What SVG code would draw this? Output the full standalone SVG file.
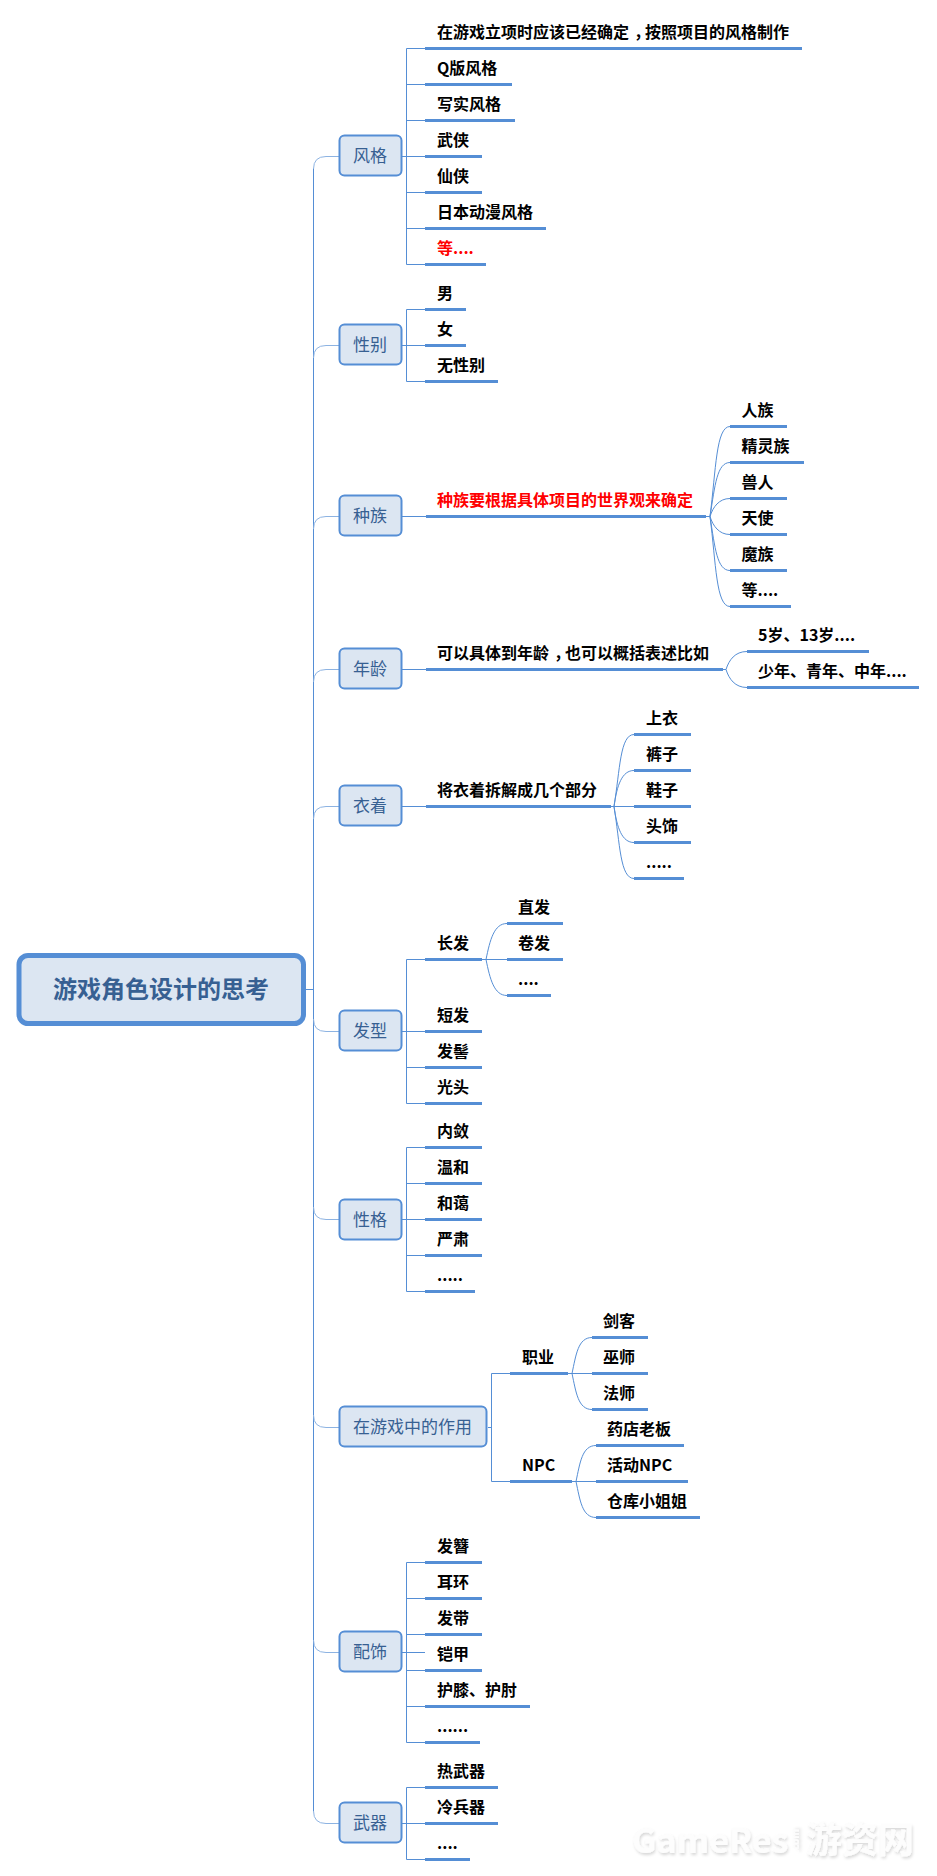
<svg xmlns="http://www.w3.org/2000/svg" width="937" height="1876" viewBox="0 0 937 1876">
<style>
text{font-family:"Noto Sans CJK SC","Noto Sans",sans-serif}
.t{font-size:16px;font-weight:700;fill:#000}
.r{font-size:16px;font-weight:700;fill:#f00}
.h{font-feature-settings:"halt"}
.n{font-size:17px;fill:#376092;text-anchor:middle}
.b{fill:#dce6f2;stroke:#558ed5;stroke-width:2}
.u{stroke:#558ed5;stroke-width:3;fill:none}
.c{stroke:#558ed5;stroke-width:1;fill:none}
.s{stroke:#8db3e2;stroke-width:1;fill:none}
.wm{fill:#fdfdfd;font-weight:700;filter:url(#sh)}
</style>
<defs><filter id="sh" x="-10%" y="-20%" width="120%" height="150%"><feDropShadow dx="1" dy="2" stdDeviation="1.5" flood-color="#000" flood-opacity="0.16"/></filter></defs>
<rect width="937" height="1876" fill="#fff"/>
<g id="connectors">
<path class="c" d="M305 989.500H313.500M313.500 168V1811"/>
<path class="s" d="M339 156.500H326Q313.500 156.500 313.500 169M339 345.500H326Q313.500 345.500 313.500 358M339 516.500H326Q313.500 516.500 313.500 529M339 669.500H326Q313.500 669.500 313.500 682M339 806.500H326Q313.500 806.500 313.500 819M339 1031.500H326Q313.500 1031.500 313.500 1019M339 1219.500H326Q313.500 1219.500 313.500 1207M339 1427.500H326Q313.500 1427.500 313.500 1415M339 1652.500H326Q313.500 1652.500 313.500 1640M339 1823.500H326Q313.500 1823.500 313.500 1811"/>
<path class="c" d="M402 156.500H425M406.500 48.500V264.500M406.500 48.500H425M406.500 84.500H425M406.500 120.500H425M406.500 192.500H425M406.500 228.500H425M406.500 264.500H425"/>
<path class="c" d="M402 345.500H425M406.500 309.500V381.500M406.500 309.500H425M406.500 381.500H425"/>
<path class="c" d="M402 516.500H426M402 669.500H426M402 806.500H426"/>
<path class="c" d="M706 516.500H710M710 516.500C716 470 716 426.500 730 426.500M710 516.500C715 485 717 462.500 730 462.500M710 516.500C713 507 719 498.500 730 498.500M710 516.500C713 526 719 534.500 730 534.500M710 516.500C715 548 717 570.500 730 570.500M710 516.500C716 563 716 606.500 730 606.500"/>
<path class="c" d="M723 669.500H726M726 669.500C729 660 735 651.500 747 651.500M726 669.500C729 679 735 687.500 747 687.500"/>
<path class="c" d="M611 806.500H614M614 806.500C620 770 620 734.500 634 734.500M614 806.500C617 785 622 770.500 634 770.500M614 806.500H634M614 806.500C617 828 622 842.500 634 842.500M614 806.500C620 843 620 878.500 634 878.500"/>
<path class="c" d="M402 1031.500H425M406.500 959.500V1103.500M406.500 959.500H425M406.500 1067.500H425M406.500 1103.500H425"/>
<path class="c" d="M482 959.500H486M486 959.500C490 940 494 923.500 507 923.500M486 959.500H507M486 959.500C490 979 494 995.500 507 995.500"/>
<path class="c" d="M402 1219.500H425M406.500 1147.500V1291.500M406.500 1147.500H425M406.500 1183.500H425M406.500 1255.500H425M406.500 1291.500H425"/>
<path class="c" d="M488 1427.500H491.500M491.500 1373.500V1481.500M491.500 1373.500H510M491.500 1481.500H510"/>
<path class="c" d="M568 1373.500H572M572 1373.500C576 1355 578 1337.500 592 1337.500M572 1373.500H592M572 1373.500C576 1392 578 1409.500 592 1409.500"/>
<path class="c" d="M572 1481.500H576M576 1481.500C580 1463 582 1445.500 596 1445.500M576 1481.500H596M576 1481.500C580 1500 582 1517.500 596 1517.500"/>
<path class="c" d="M402 1652.500H425M406.500 1562.500V1742.500M406.500 1562.500H425M406.500 1598.500H425M406.500 1634.500H425M406.500 1670.500H425M406.500 1706.500H425M406.500 1742.500H425"/>
<path class="c" d="M402 1823.500H425M406.500 1787.500V1859.500M406.500 1787.500H425M406.500 1859.500H425"/>
</g>
<g id="root"><rect x="19" y="955.500" width="284.500" height="68" rx="9" fill="#dce6f2" stroke="#558ed5" stroke-width="5"/><text x="161" y="998" font-size="24" font-weight="700" fill="#376092" text-anchor="middle">游戏角色设计的思考</text></g>
<g id="n-fengge"><rect class="b" x="339.500" y="135.500" width="62" height="40" rx="5"/><text class="n" x="370" y="162">风格</text></g>
<g id="n-xingbie"><rect class="b" x="339.500" y="324.500" width="62" height="40" rx="5"/><text class="n" x="370" y="351">性别</text></g>
<g id="n-zhongzu"><rect class="b" x="339.500" y="495.500" width="62" height="40" rx="5"/><text class="n" x="370" y="522">种族</text></g>
<g id="n-nianling"><rect class="b" x="339.500" y="648.500" width="62" height="40" rx="5"/><text class="n" x="370" y="675">年龄</text></g>
<g id="n-yizhuo"><rect class="b" x="339.500" y="785.500" width="62" height="40" rx="5"/><text class="n" x="370" y="812">衣着</text></g>
<g id="n-faxing"><rect class="b" x="339.500" y="1010.500" width="62" height="40" rx="5"/><text class="n" x="370" y="1037">发型</text></g>
<g id="n-xingge"><rect class="b" x="339.500" y="1199.500" width="62" height="40" rx="5"/><text class="n" x="370" y="1226">性格</text></g>
<g id="n-zuoyong"><rect class="b" x="339.500" y="1406.500" width="147" height="40" rx="5"/><text class="n" x="412.500" y="1433">在游戏中的作用</text></g>
<g id="n-peishi"><rect class="b" x="339.500" y="1631.500" width="62" height="40" rx="5"/><text class="n" x="370" y="1658">配饰</text></g>
<g id="n-wuqi"><rect class="b" x="339.500" y="1802.500" width="62" height="40" rx="5"/><text class="n" x="370" y="1829">武器</text></g>

<g id="a1"><text class="t" x="437" y="38">在游戏立项时应该已经确定<tspan class="h" dx="5">，</tspan><tspan dx="3">按照项目的风格制作</tspan></text><path class="u" d="M425 48.500H802"/></g>
<g id="a2"><text class="t" x="437" y="74">Q版风格</text><path class="u" d="M425 84.500H512"/></g>
<g id="a3"><text class="t" x="437" y="110">写实风格</text><path class="u" d="M425 120.500H515"/></g>
<g id="a4"><text class="t" x="437" y="146">武侠</text><path class="u" d="M425 156.500H482"/></g>
<g id="a5"><text class="t" x="437" y="182">仙侠</text><path class="u" d="M425 192.500H482"/></g>
<g id="a6"><text class="t" x="437" y="218">日本动漫风格</text><path class="u" d="M425 228.500H546"/></g>
<g id="a7"><text class="r" x="437" y="254">等....</text><path class="u" d="M425 264.500H486"/></g>
<g id="b1"><text class="t" x="437" y="299">男</text><path class="u" d="M425 309.500H466"/></g>
<g id="b2"><text class="t" x="437" y="335">女</text><path class="u" d="M425 345.500H466"/></g>
<g id="b3"><text class="t" x="437" y="371">无性别</text><path class="u" d="M425 381.500H498"/></g>
<g id="c0"><text class="r" x="437" y="506">种族要根据具体项目的世界观来确定</text><path class="u" d="M426 516.500H706"/></g>
<g id="c1"><text class="t" x="741.500" y="416">人族</text><path class="u" d="M730 426.500H787"/></g>
<g id="c2"><text class="t" x="741.500" y="452">精灵族</text><path class="u" d="M730 462.500H804"/></g>
<g id="c3"><text class="t" x="741.500" y="488">兽人</text><path class="u" d="M730 498.500H787"/></g>
<g id="c4"><text class="t" x="741.500" y="524">天使</text><path class="u" d="M730 534.500H787"/></g>
<g id="c5"><text class="t" x="741.500" y="560">魔族</text><path class="u" d="M730 570.500H787"/></g>
<g id="c6"><text class="t" x="741.500" y="596">等....</text><path class="u" d="M730 606.500H791"/></g>
<g id="d0"><text class="t" x="437" y="659">可以具体到年龄<tspan class="h" dx="5">，</tspan><tspan dx="3">也可以概括表述比如</tspan></text><path class="u" d="M426 669.500H723"/></g>
<g id="d1"><text class="t" x="758" y="641">5岁、13岁....</text><path class="u" d="M747 651.500H869"/></g>
<g id="d2"><text class="t" x="758" y="677">少年、青年、中年....</text><path class="u" d="M747 687.500H919"/></g>
<g id="e0"><text class="t" x="437" y="796">将衣着拆解成几个部分</text><path class="u" d="M426 806.500H611"/></g>
<g id="e1"><text class="t" x="646" y="724">上衣</text><path class="u" d="M634 734.500H691"/></g>
<g id="e2"><text class="t" x="646" y="760">裤子</text><path class="u" d="M634 770.500H691"/></g>
<g id="e3"><text class="t" x="646" y="796">鞋子</text><path class="u" d="M634 806.500H691"/></g>
<g id="e4"><text class="t" x="646" y="832">头饰</text><path class="u" d="M634 842.500H691"/></g>
<g id="e5"><text class="t" x="646" y="868">.....</text><path class="u" d="M634 878.500H684"/></g>
<g id="f1"><text class="t" x="437" y="949">长发</text><path class="u" d="M425 959.500H482"/></g>
<g id="f11"><text class="t" x="518" y="913">直发</text><path class="u" d="M507 923.500H563"/></g>
<g id="f12"><text class="t" x="518" y="949">卷发</text><path class="u" d="M507 959.500H563"/></g>
<g id="f13"><text class="t" x="518" y="985">....</text><path class="u" d="M507 995.500H551"/></g>
<g id="f2"><text class="t" x="437" y="1021">短发</text><path class="u" d="M425 1031.500H482"/></g>
<g id="f3"><text class="t" x="437" y="1057">发髻</text><path class="u" d="M425 1067.500H482"/></g>
<g id="f4"><text class="t" x="437" y="1093">光头</text><path class="u" d="M425 1103.500H482"/></g>
<g id="g1"><text class="t" x="437" y="1137">内敛</text><path class="u" d="M425 1147.500H482"/></g>
<g id="g2"><text class="t" x="437" y="1173">温和</text><path class="u" d="M425 1183.500H482"/></g>
<g id="g3"><text class="t" x="437" y="1209">和蔼</text><path class="u" d="M425 1219.500H482"/></g>
<g id="g4"><text class="t" x="437" y="1245">严肃</text><path class="u" d="M425 1255.500H482"/></g>
<g id="g5"><text class="t" x="437" y="1281">.....</text><path class="u" d="M425 1291.500H475"/></g>
<g id="h1"><text class="t" x="522" y="1363">职业</text><path class="u" d="M510 1373.500H568"/></g>
<g id="h11"><text class="t" x="603" y="1327">剑客</text><path class="u" d="M592 1337.500H648"/></g>
<g id="h12"><text class="t" x="603" y="1363">巫师</text><path class="u" d="M592 1373.500H648"/></g>
<g id="h13"><text class="t" x="603" y="1399">法师</text><path class="u" d="M592 1409.500H648"/></g>
<g id="h2"><text class="t" x="522" y="1471">NPC</text><path class="u" d="M510 1481.500H572"/></g>
<g id="h21"><text class="t" x="607" y="1435">药店老板</text><path class="u" d="M596 1445.500H684"/></g>
<g id="h22"><text class="t" x="607" y="1471">活动NPC</text><path class="u" d="M596 1481.500H688"/></g>
<g id="h23"><text class="t" x="607" y="1507">仓库小姐姐</text><path class="u" d="M596 1517.500H700"/></g>
<g id="i1"><text class="t" x="437" y="1552">发簪</text><path class="u" d="M425 1562.500H482"/></g>
<g id="i2"><text class="t" x="437" y="1588">耳环</text><path class="u" d="M425 1598.500H482"/></g>
<g id="i3"><text class="t" x="437" y="1624">发带</text><path class="u" d="M425 1634.500H482"/></g>
<g id="i4"><text class="t" x="437" y="1660">铠甲</text><path class="u" d="M425 1670.500H482"/></g>
<g id="i5"><text class="t" x="437" y="1696">护膝、护肘</text><path class="u" d="M425 1706.500H530"/></g>
<g id="i6"><text class="t" x="437" y="1732">......</text><path class="u" d="M425 1742.500H480"/></g>
<g id="j1"><text class="t" x="437" y="1777">热武器</text><path class="u" d="M425 1787.500H498"/></g>
<g id="j2"><text class="t" x="437" y="1813">冷兵器</text><path class="u" d="M425 1823.500H498"/></g>
<g id="j3"><text class="t" x="437" y="1849">....</text><path class="u" d="M425 1859.500H470"/></g>
<g id="watermark">
<text class="wm" x="632" y="1853" font-size="34" font-family="Open Sans">GameRes</text>
<text class="wm" x="0" y="0" font-size="10" transform="translate(799,1853) rotate(-90)">.com</text>
<text class="wm" x="806" y="1853" font-size="36">游资网</text>
</g>
</svg>
